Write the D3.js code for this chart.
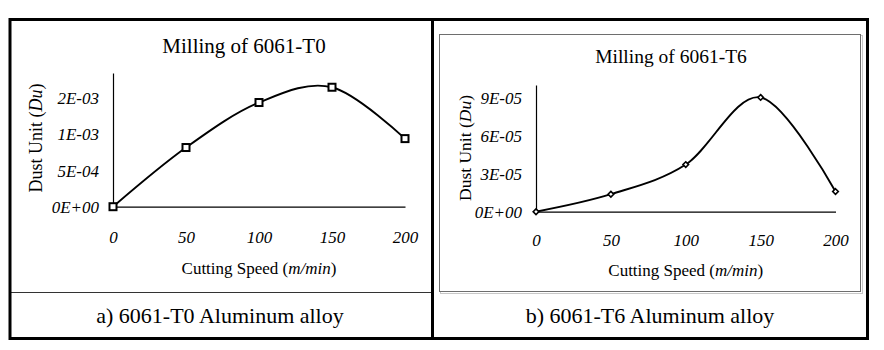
<!DOCTYPE html>
<html>
<head>
<meta charset="utf-8">
<script src="https://cdn.jsdelivr.net/npm/d3@7"></script>
<style>
  html, body { margin: 0; padding: 0; background: #fff; }
  svg { display: block; }
  text { font-family: "Liberation Serif", "Times New Roman", serif; fill: #000; }
</style>
</head>
<body>
<svg id="chart" width="884" height="350"></svg>
<script>
// ---- data ----
const speeds = [0, 50, 100, 150, 200];
const dustT0 = [0, 0.00081, 0.001426, 0.001635, 0.000932];
const dustT6 = [0, 0.0000138, 0.0000372, 0.0000902, 0.0000159];
const xTicks = [0, 50, 100, 150, 200];
const yTicksT0 = [0, 0.0005, 0.001, 0.0015];
const yTickLabelsT0 = ["0E+00", "5E-04", "1E-03", "2E-03"];
const yTicksT6 = [0, 0.00003, 0.00006, 0.00009];
const yTickLabelsT6 = ["0E+00", "3E-05", "6E-05", "9E-05"];
const yMaxT0 = 0.00183;
const yMaxT6 = 0.0001;
const titles = ["Milling of 6061-T0", "Milling of 6061-T6"];
const captions = ["a) 6061-T0 Aluminum alloy", "b) 6061-T6 Aluminum alloy"];

const svg = d3.select("#chart");

// ---- frames ----
svg.append("rect").attr("x", 0).attr("y", 0).attr("width", 884).attr("height", 350).attr("fill", "#fff");
// right panel inner chart box (shadow + border)
svg.append("rect").attr("x", 440.5).attr("y", 35.5).attr("width", 422).attr("height", 258)
  .attr("fill", "none").attr("stroke", "#c8c8c8").attr("stroke-width", 1);
svg.append("rect").attr("x", 439.5).attr("y", 34.5).attr("width", 421).attr("height", 257)
  .attr("fill", "#fff").attr("stroke", "#6e6e6e").attr("stroke-width", 1);
// left caption separator
svg.append("line").attr("x1", 9).attr("x2", 432).attr("y1", 292.5).attr("y2", 292.5)
  .attr("stroke", "#333").attr("stroke-width", 1);
// outer frame
svg.append("rect").attr("x", 10).attr("y", 19.5).attr("width", 857.5).attr("height", 319)
  .attr("fill", "none").attr("stroke", "#000").attr("stroke-width", 3);
svg.append("line").attr("x1", 432.5).attr("x2", 432.5).attr("y1", 19).attr("y2", 339)
  .attr("stroke", "#000").attr("stroke-width", 3);

function drawPanel(cfg) {
  const x = d3.scaleLinear().domain([0, 200]).range(cfg.xr);
  const y = d3.scaleLinear().domain([0, cfg.yMax]).range(cfg.yr);
  const g = svg.append("g");

  const yAxis = d3.axisLeft(y).tickValues(cfg.yTicks).tickSize(0)
    .tickFormat((d, i) => cfg.yLabels[i]).tickPadding(14);
  const ya = g.append("g").attr("transform", `translate(${cfg.xr[0]},0)`).call(yAxis);
  ya.select(".domain").attr("stroke", "#000").attr("stroke-width", 1.2);
  ya.selectAll("text").attr("font-family", "Liberation Serif").attr("font-style", "italic")
    .attr("font-size", cfg.tickSize).attr("fill", "#000").attr("dy", "0.35em");

  const xAxis = d3.axisBottom(x).tickValues(xTicks).tickSize(0).tickFormat(d3.format("d"));
  const xa = g.append("g").attr("transform", `translate(0,${cfg.yr[0]})`).call(xAxis);
  xa.select(".domain").attr("stroke", "#000").attr("stroke-width", 1.2);
  xa.selectAll("text").attr("font-family", "Liberation Serif").attr("font-style", "italic")
    .attr("font-size", cfg.tickSize).attr("fill", "#000")
    .attr("y", cfg.xLabelY - cfg.yr[0]).attr("dy", "0.35em");

  const pts = speeds.map((s, i) => [s, cfg.values[i]]);
  const line = d3.line().x(d => x(d[0])).y(d => y(d[1])).curve(d3.curveCardinal.tension(0));
  g.append("path").attr("d", line(pts)).attr("fill", "none").attr("stroke", "#000").attr("stroke-width", 1.9);

  if (cfg.marker === "square") {
    g.selectAll("rect.m").data(pts).enter().append("rect").attr("class", "m")
      .attr("x", d => x(d[0]) - 3.5).attr("y", d => y(d[1]) - 3.5)
      .attr("width", 7).attr("height", 7)
      .attr("fill", "#fff").attr("stroke", "#000").attr("stroke-width", 2);
  } else {
    const sym = d3.symbol().type(d3.symbolDiamond2).size(20);
    g.selectAll("path.m").data(pts).enter().append("path").attr("class", "m")
      .attr("d", sym).attr("transform", d => `translate(${x(d[0])},${y(d[1])})`)
      .attr("fill", "#fff").attr("stroke", "#000").attr("stroke-width", 1.6);
  }

  g.append("text").attr("x", cfg.titleX).attr("y", cfg.titleY).attr("text-anchor", "middle")
    .attr("font-size", cfg.titleSize).text(cfg.title);

  const xt = g.append("text").attr("x", (cfg.xr[0] + cfg.xr[1]) / 2).attr("y", cfg.xTitleY)
    .attr("text-anchor", "middle").attr("font-size", cfg.axisTitleSize);
  xt.append("tspan").text("Cutting Speed (");
  xt.append("tspan").attr("font-style", "italic").text("m/min");
  xt.append("tspan").text(")");

  const yt = g.append("text").attr("transform", `translate(${cfg.yTitleX},${cfg.yTitleY}) rotate(-90)`)
    .attr("text-anchor", "middle").attr("dy", "0.35em").attr("font-size", cfg.yTitleSize);
  yt.append("tspan").text("Dust Unit (");
  yt.append("tspan").attr("font-style", "italic").text("Du");
  yt.append("tspan").text(")");

  g.append("text").attr("x", cfg.capX).attr("y", 323).attr("text-anchor", "middle")
    .attr("font-size", 22).attr("fill", "#1a1a1a").text(cfg.caption);
}

drawPanel({
  xr: [113, 405], yr: [206.7, 73], yMax: yMaxT0,
  yTicks: yTicksT0, yLabels: yTickLabelsT0, values: dustT0,
  tickSize: 17, xLabelY: 237, marker: "square",
  title: titles[0], titleX: 244, titleY: 53, titleSize: 21,
  xTitleY: 274, axisTitleSize: 17,
  yTitleX: 36, yTitleY: 138, yTitleSize: 18,
  caption: captions[0], capX: 220
});

drawPanel({
  xr: [536, 835.5], yr: [211.7, 85], yMax: yMaxT6,
  yTicks: yTicksT6, yLabels: yTickLabelsT6, values: dustT6,
  tickSize: 17, xLabelY: 240, marker: "diamond",
  title: titles[1], titleX: 671, titleY: 63, titleSize: 19.5,
  xTitleY: 276, axisTitleSize: 17,
  yTitleX: 465, yTitleY: 148, yTitleSize: 17.5,
  caption: captions[1], capX: 650
});
</script>
</body>
</html>
